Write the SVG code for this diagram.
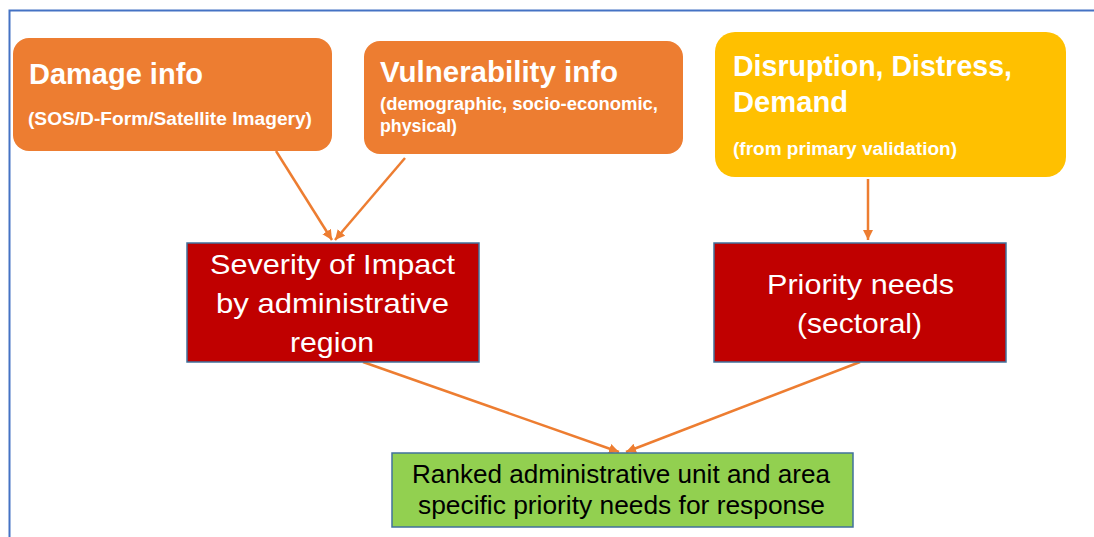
<svg xmlns="http://www.w3.org/2000/svg" width="1094" height="537" viewBox="0 0 1094 537">
<style>
.t{font-family:"Liberation Sans",Arial,sans-serif;fill:#fff}
.b{font-weight:bold}
.k{fill:#000}
.rect{stroke:#41719C;stroke-width:1.5}
.conn{stroke:#ED7D31;stroke-width:2.5;fill:none;marker-end:url(#ah)}
</style>
<defs>
<marker id="ah" markerUnits="userSpaceOnUse" markerWidth="12" markerHeight="12" refX="10" refY="5" orient="auto">
<path d="M0,0 L10,5 L0,10 Z" fill="#ED7D31"/>
</marker>
</defs>
<rect width="1094" height="537" fill="#fff"/>
<rect x="9.5" y="10.5" width="1110" height="600" fill="none" stroke="#4472C4" stroke-width="2"/>
<g id="connectors">
<line class="conn" x1="276" y1="151" x2="332" y2="240"/>
<line class="conn" x1="405" y1="158" x2="335" y2="240"/>
<line class="conn" x1="868" y1="179" x2="868" y2="240"/>
<line class="conn" x1="363" y1="362" x2="619" y2="452"/>
<line class="conn" x1="860" y1="362" x2="626" y2="452"/>
</g>
<g id="damage">
<rect x="13" y="38" width="319" height="113" rx="16" fill="#ED7D31"/>
<text class="t b" x="29" y="84" font-size="29" textLength="174" lengthAdjust="spacingAndGlyphs">Damage info</text>
<text class="t b" x="28" y="125" font-size="19" textLength="284" lengthAdjust="spacingAndGlyphs">(SOS/D-Form/Satellite Imagery)</text>
</g>
<g id="vulnerability">
<rect x="364" y="41" width="319" height="113" rx="16" fill="#ED7D31"/>
<text class="t b" x="380" y="82" font-size="29" textLength="238" lengthAdjust="spacingAndGlyphs">Vulnerability info</text>
<text class="t b" x="380" y="110" font-size="18" textLength="278" lengthAdjust="spacingAndGlyphs">(demographic, socio-economic,</text>
<text class="t b" x="380" y="132" font-size="18" textLength="77" lengthAdjust="spacingAndGlyphs">physical)</text>
</g>
<g id="disruption">
<rect x="715" y="32" width="351" height="145" rx="20" fill="#FFC000"/>
<text class="t b" x="733" y="76" font-size="29" textLength="279" lengthAdjust="spacingAndGlyphs">Disruption, Distress,</text>
<text class="t b" x="733" y="112" font-size="29" textLength="115" lengthAdjust="spacingAndGlyphs">Demand</text>
<text class="t b" x="733" y="155" font-size="18" textLength="224" lengthAdjust="spacingAndGlyphs">(from primary validation)</text>
</g>
<g id="severity">
<rect class="rect" x="187" y="243" width="292" height="119" fill="#C00000"/>
<text class="t" x="210" y="274" font-size="28" textLength="245" lengthAdjust="spacingAndGlyphs">Severity of Impact</text>
<text class="t" x="216" y="313" font-size="28" textLength="233" lengthAdjust="spacingAndGlyphs">by administrative</text>
<text class="t" x="290" y="352" font-size="28" textLength="84" lengthAdjust="spacingAndGlyphs">region</text>
</g>
<g id="priority">
<rect class="rect" x="714" y="243" width="292" height="119" fill="#C00000"/>
<text class="t" x="767" y="294" font-size="28" textLength="187" lengthAdjust="spacingAndGlyphs">Priority needs</text>
<text class="t" x="797" y="333" font-size="28" textLength="125" lengthAdjust="spacingAndGlyphs">(sectoral)</text>
</g>
<g id="ranked">
<rect class="rect" x="392" y="453" width="461" height="74" fill="#92D050"/>
<text class="t k" x="412" y="483" font-size="25" textLength="418" lengthAdjust="spacingAndGlyphs">Ranked administrative unit and area</text>
<text class="t k" x="418" y="514" font-size="25" textLength="407" lengthAdjust="spacingAndGlyphs">specific priority needs for response</text>
</g>
</svg>
